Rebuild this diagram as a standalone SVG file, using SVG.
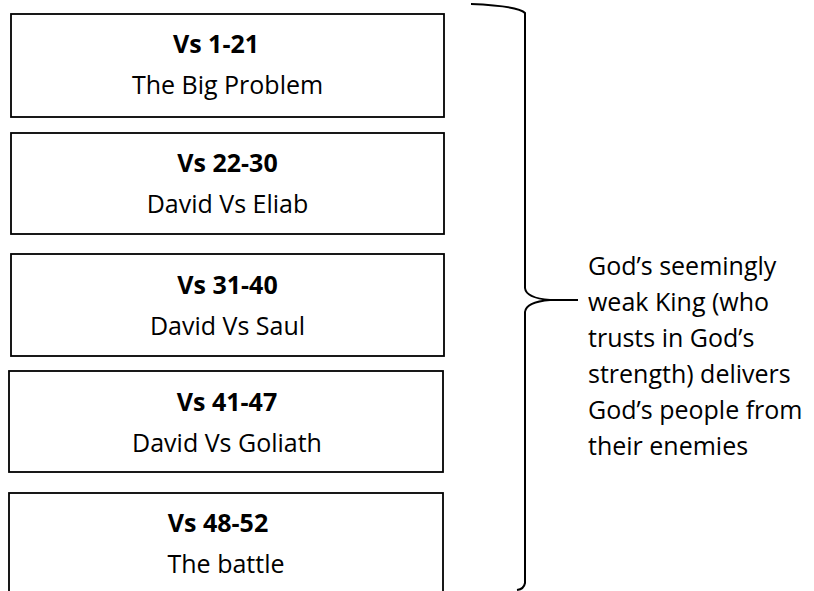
<svg xmlns="http://www.w3.org/2000/svg" width="814" height="591" viewBox="0 0 814 591">
<style>
.box{fill:#fff;stroke:#000;stroke-width:1.8}
.t{font-family:"Open Sans","Noto Sans",sans-serif;font-size:25px;fill:#000;text-anchor:middle}
.b{font-weight:bold}
.r{font-family:"Open Sans","Noto Sans",sans-serif;font-size:25px;fill:#000}
.br{fill:none;stroke:#000;stroke-width:2}
</style>
<rect width="814" height="591" fill="#fff"/>
<g id="n1"><rect class="box" x="11" y="14" width="433" height="103"/><text class="t b" x="216" y="53">Vs 1-21</text><text class="t" x="227.5" y="94">The Big Problem</text></g>
<g id="n2"><rect class="box" x="11" y="133" width="433" height="101"/><text class="t b" x="227.5" y="172">Vs 22-30</text><text class="t" x="227.5" y="213">David Vs Eliab</text></g>
<g id="n3"><rect class="box" x="11" y="254" width="433" height="102"/><text class="t b" x="227.5" y="294">Vs 31-40</text><text class="t" x="227.5" y="335">David Vs Saul</text></g>
<g id="n4"><rect class="box" x="9" y="371" width="434" height="101"/><text class="t b" x="227" y="411">Vs 41-47</text><text class="t" x="227" y="452">David Vs Goliath</text></g>
<g id="n5"><rect class="box" x="9" y="493" width="434" height="105"/><text class="t b" x="218" y="532">Vs 48-52</text><text class="t" x="226" y="573">The battle</text></g>
<g id="connectors">
<path class="br" d="M471 4 Q519 6 525 13 L525 288 Q526 298 550 300 L578 300 M550 300 Q526 302 525 312 L525 583 Q524 589 517 590"/>
</g>
<g id="summary">
<text class="r" x="588" y="275">God’s seemingly</text>
<text class="r" x="588" y="311">weak King (who</text>
<text class="r" x="588" y="347">trusts in God’s</text>
<text class="r" x="588" y="383">strength) delivers</text>
<text class="r" x="588" y="419">God’s people from</text>
<text class="r" x="588" y="455">their enemies</text>
</g>
</svg>
